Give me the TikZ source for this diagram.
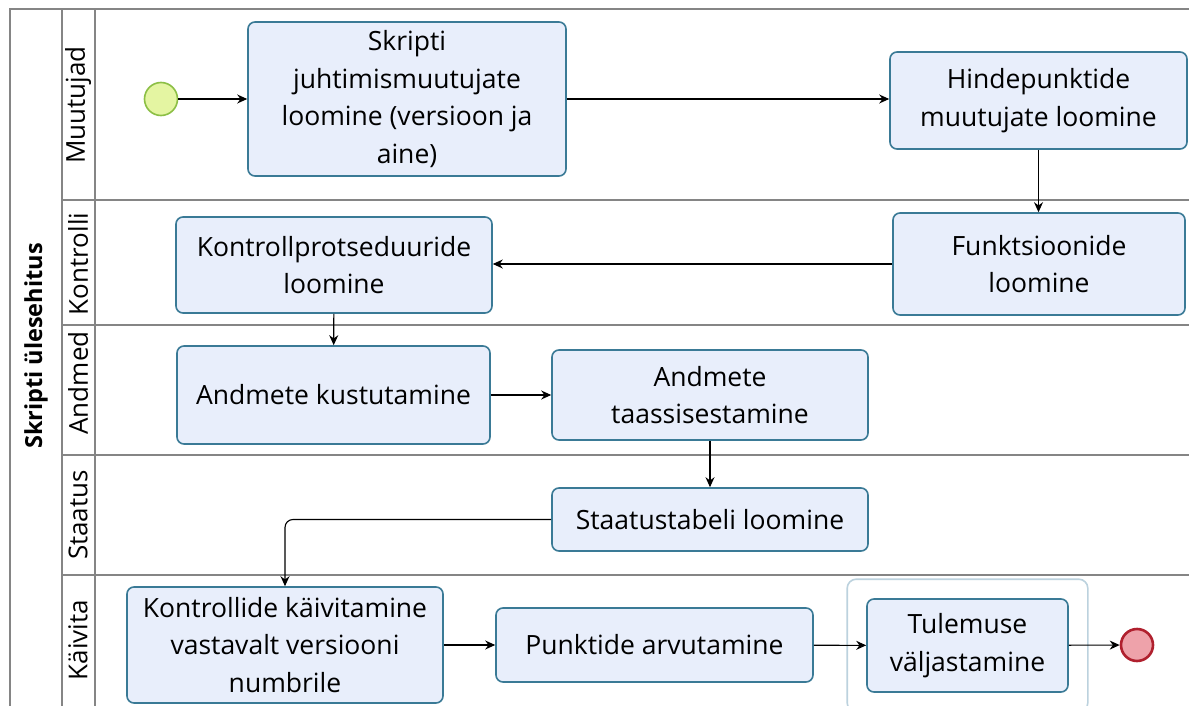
\documentclass[tikz,border=0pt]{standalone}
\usepackage{fontspec}
\setmainfont{Open Sans}
\usetikzlibrary{positioning,fit,arrows.meta}

\definecolor{taskfill}{HTML}{E8EEFB}
\definecolor{taskline}{HTML}{3A7A96}
\definecolor{laneline}{HTML}{858585}
\definecolor{startfill}{HTML}{E4F5A2}
\definecolor{startline}{HTML}{8CBF45}
\definecolor{endfill}{HTML}{EEA2AA}
\definecolor{endline}{HTML}{B0202E}
\definecolor{groupline}{HTML}{BCD2DE}

\newcommand{\tasksize}{\fontsize{26.5}{37.5}\selectfont}
\newcommand{\lanesize}{\fontsize{26}{30}\selectfont}

\begin{document}
\begin{tikzpicture}[
  x=1pt,y=-1pt,
  task/.style={draw=taskline,fill=taskfill,line width=1.6pt,rounded corners=7pt,
    align=center,inner sep=0pt,font=\tasksize},
  startev/.style={circle,draw=startline,fill=startfill,line width=1.6pt,minimum size=33pt,inner sep=0pt},
  endev/.style={circle,draw=endline,fill=endfill,line width=2.6pt,minimum size=32pt,inner sep=0pt},
  grp/.style={draw=groupline,line width=1.6pt,rounded corners=9pt,inner sep=19pt},
  flow/.style={-{Stealth[length=10pt,width=9pt]},line width=1.1pt},
  lane/.style={draw=laneline,line width=1.8pt},
  lanelabel/.style={rotate=90,font=\lanesize}
]
  % pool with five lanes
  \useasboundingbox (0,0) rectangle (1189,706);
  \fill[white] (0,0) rectangle (1189,706);
  \draw[lane] (1189,9) -- (10,9) -- (10,706);
  \draw[lane] (62,9) -- (62,706);
  \draw[lane] (95,9) -- (95,706);
  \foreach \y in {200,325,455,575}
    \draw[lane] (62,\y) -- (1189,\y);

  \node[rotate=90,font=\bfseries\fontsize{23.5}{28}\selectfont] (pool) at (36,346) {Skripti ülesehitus};
  \node[lanelabel] (muutujad) at (78,105) {Muutujad};
  \node[lanelabel] (kontrolli) at (78,264) {Kontrolli};
  \node[lanelabel] (andmed) at (78,383) {Andmed};
  \node[lanelabel] (staatuslane) at (78,515) {Staatus};
  \node[lanelabel] (kaivitalane) at (78,640) {Käivita};

  \node[startev] (start) at (161,99) {};
  \node[task,minimum width=318,minimum height=154] (vars) at (407,99)
    {Skripti\\juhtimismuutujate\\loomine (versioon ja\\aine)};
  \node[task,minimum width=297,minimum height=97] (hinde) at (1038.5,100.5)
    {Hindepunktide\\muutujate loomine};
  \node[task,minimum width=292,minimum height=102] (funk) at (1039,264)
    {Funktsioonide\\loomine};
  \node[task,minimum width=316,minimum height=96] (kontroll) at (334,265)
    {Kontrollprotseduuride\\loomine};
  \node[task,minimum width=313,minimum height=98] (kustuta) at (333.5,395)
    {Andmete kustutamine};
  \node[task,minimum width=316,minimum height=90] (taasta) at (710,395)
    {Andmete\\taassisestamine};
  \node[task,minimum width=316,minimum height=63] (staatus) at (710,519.5)
    {Staatustabeli loomine};
  \node[task,minimum width=316,minimum height=116] (kaivita) at (285,645)
    {Kontrollide käivitamine\\vastavalt versiooni\\numbrile};
  \node[task,minimum width=317,minimum height=74] (punktid) at (654.5,645)
    {Punktide arvutamine};
  \node[task,minimum width=201,minimum height=93] (tulemus) at (967.5,645.5)
    {Tulemuse\\väljastamine};
  \node[grp,fit=(tulemus)] (tulemusgrp) {};
  \node[endev] (end) at (1137,645) {};

  \draw[flow] (start) -- (vars);
  \draw[flow] (vars.east) -- (vars.east -| hinde.west);
  \draw[flow] (hinde.south) -- (hinde.south |- funk.north);
  \draw[flow] (funk.west) -- (funk.west -| kontroll.east);
  \draw[flow] (kontroll) -- (kustuta);
  \draw[flow] (kustuta) -- (taasta);
  \draw[flow] (taasta) -- (staatus);
  \draw[flow,rounded corners=8pt] (staatus.west) -| (kaivita.north);
  \draw[flow] (kaivita) -- (punktid);
  \draw[flow] (punktid) -- (tulemus);
  \draw[flow] (tulemus) -- (end);
\end{tikzpicture}
\end{document}
